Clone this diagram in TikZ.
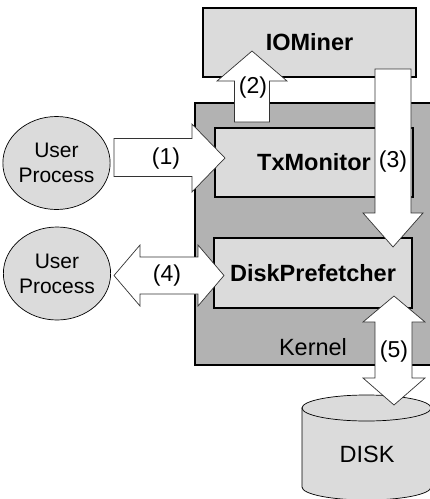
\documentclass[tikz,border=0pt]{standalone}
\usepackage{fontspec}
\setmainfont{Liberation Sans}
\usetikzlibrary{shapes.geometric}
\definecolor{boxgray}{gray}{0.86}
\definecolor{kernelgray}{gray}{0.70}
\begin{document}
\begin{tikzpicture}[x=1pt,y=-1pt,
  bigfont/.style={font=\fontsize{23.5}{27}\selectfont},
  box/.style={draw=black, line width=1.2pt, fill=boxgray, inner sep=0pt,
    bigfont, font=\fontsize{23.5}{27}\selectfont\bfseries},
  userproc/.style={draw=black, line width=0.7pt, fill=boxgray, ellipse,
    inner sep=0pt, align=center, font=\fontsize{21}{25}\selectfont},
  blockarrow/.style={draw=black!80, line width=0.7pt, fill=white, line join=miter},
  lbl/.style={inner sep=0pt, font=\fontsize{23}{27}\selectfont}]
\clip (0,0) rectangle (430,499);
% kernel
\node[draw=black, line width=2.6pt, fill=kernelgray, minimum width=245, minimum height=262, inner sep=0pt]
  (kernel) at (317.5,234) {};
\node[lbl, font=\fontsize{23.5}{27}\selectfont] (kernellbl) at (313,347) {Kernel};
% boxes
\node[box, minimum width=213, minimum height=69] (iominer) at (309.5,42.5) {IOMiner};
\node[box, minimum width=198, minimum height=69] (txmon) at (314,162.5) {TxMonitor};
\node[box, minimum width=198, minimum height=70] (diskpf) at (313,273) {DiskPrefetcher};
% user processes
\node[userproc, minimum width=99, minimum height=93] (up1) at (56.5,163) {User\\Process};
\node[userproc, minimum width=99, minimum height=93] (up2) at (57,273.5) {User\\Process};
% disk
\draw[draw=black, line width=0.7pt, fill=boxgray]
  (302,408) -- (302,487) arc[start angle=180, end angle=0, x radius=64.5, y radius=13]
  -- (431,408) -- cycle;
\draw[draw=black, line width=0.7pt, fill=boxgray] (366.5,408) ellipse[x radius=64.5, y radius=13];
\node[lbl, font=\fontsize{23.5}{27}\selectfont] (disk) at (367,454) {DISK};
% arrow (1)
\draw[blockarrow] (114,138.5) -- (192,138.5) -- (192,124) -- (225,158) -- (192,192)
  -- (192,176.5) -- (114,176.5) -- cycle;
\node[lbl] (l1) at (166,159) {(1)};
% arrow (4)
\draw[blockarrow] (114,275.5) -- (140,245) -- (140,257) -- (198,257) -- (198,245)
  -- (224,275.5) -- (198,306) -- (198,294) -- (140,294) -- (140,306) -- cycle;
\node[lbl] (l4) at (167,276) {(4)};
% arrow (2)
\draw[blockarrow] (234.5,122) -- (234.5,81) -- (217,81) -- (252,51) -- (287,81)
  -- (269.5,81) -- (269.5,122) -- cycle;
\node[lbl] (l2) at (253,88) {(2)};
% arrow (3)
\draw[blockarrow] (375,69) -- (411,69) -- (411,213) -- (423,213) -- (393,247)
  -- (363,213) -- (375,213) -- cycle;
\node[lbl] (l3) at (393,162) {(3)};
% arrow (5)
\draw[blockarrow] (394,296) -- (425,322) -- (412,322) -- (412,378) -- (425,378)
  -- (394,405) -- (363,378) -- (375,378) -- (375,322) -- (363,322) -- cycle;
\node[lbl] (l5) at (394,352) {(5)};
\end{tikzpicture}
\end{document}
